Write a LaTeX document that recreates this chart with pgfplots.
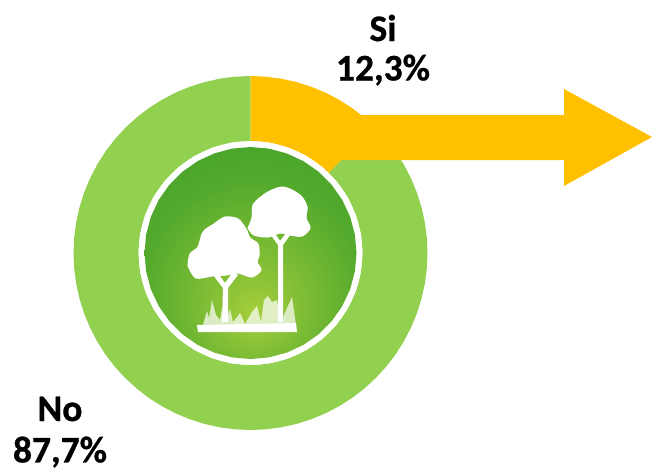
\documentclass[border=0pt]{standalone}
\usepackage{pgfplots}
\pgfplotsset{compat=1.18}
\usepackage{fontspec}
\setmainfont[BoldFeatures={FakeBold=0.8}]{Carlito}
\definecolor{ringgreen}{HTML}{92D050}
\definecolor{amber}{HTML}{FFC000}
\definecolor{discA}{HTML}{A6D03C}
\definecolor{discB}{HTML}{8AC237}
\definecolor{discC}{HTML}{54AA2D}
\definecolor{discD}{HTML}{3BA027}
\pgfdeclareradialshading{discshade}{\pgfpoint{1bp}{-15bp}}{
  color(0bp)=(discA);
  color(8bp)=(discB);
  color(26bp)=(discC);
  color(44bp)=(discD);
  color(70bp)=(discD)}
\begin{document}
\begin{tikzpicture}
\path[use as bounding box] (0pt,0pt) rectangle (652pt,472pt);
% donut: share of the circle, angle/radius about the centre of the ring
\begin{axis}[at={(0pt,0pt)},anchor=south west,scale only axis,width=652pt,height=472pt,
  hide axis,clip=false,xmin=-250.5,xmax=401.5,ymin=-219,ymax=253,data cs=polar]
% No 87,7 %
\addplot[fill=ringgreen,draw=none] coordinates {
(45.72,177)(40,177)(35,177)(30,177)(25,177)(20,177)(15,177)(10,177)(5,177)(0,177)
(-5,177)(-10,177)(-15,177)(-20,177)(-25,177)(-30,177)(-35,177)(-40,177)(-45,177)(-50,177)
(-55,177)(-60,177)(-65,177)(-70,177)(-75,177)(-80,177)(-85,177)(-90,177)(-95,177)(-100,177)
(-105,177)(-110,177)(-115,177)(-120,177)(-125,177)(-130,177)(-135,177)(-140,177)(-145,177)(-150,177)
(-155,177)(-160,177)(-165,177)(-170,177)(-175,177)(-180,177)(-185,177)(-190,177)(-195,177)(-200,177)
(-205,177)(-210,177)(-215,177)(-220,177)(-225,177)(-230,177)(-235,177)(-240,177)(-245,177)(-250,177)
(-255,177)(-260,177)(-265,177)(-270,177)
(-270,112)(-265,112)(-260,112)(-255,112)(-250,112)(-245,112)(-240,112)(-235,112)(-230,112)(-225,112)
(-220,112)(-215,112)(-210,112)(-205,112)(-200,112)(-195,112)(-190,112)(-185,112)(-180,112)(-175,112)
(-170,112)(-165,112)(-160,112)(-155,112)(-150,112)(-145,112)(-140,112)(-135,112)(-130,112)(-125,112)
(-120,112)(-115,112)(-110,112)(-105,112)(-100,112)(-95,112)(-90,112)(-85,112)(-80,112)(-75,112)
(-70,112)(-65,112)(-60,112)(-55,112)(-50,112)(-45,112)(-40,112)(-35,112)(-30,112)(-25,112)
(-20,112)(-15,112)(-10,112)(-5,112)(0,112)(5,112)(10,112)(15,112)(20,112)(25,112)
(30,112)(35,112)(40,112)(45.72,112)};
% Si 12,3 %
\addplot[fill=amber,draw=none] coordinates {
(90,177)(85,177)(80,177)(75,177)(70,177)(65,177)(60,177)(55,177)(50,177)(45.72,177)
(45.72,112)(50,112)(55,112)(60,112)(65,112)(70,112)(75,112)(80,112)(85,112)(90,112)};
% icon disc
\addplot[fill=white,draw=none] coordinates {
(0,112)(10,112)(20,112)(30,112)(40,112)(50,112)(60,112)(70,112)(80,112)(90,112)(100,112)(110,112)
(120,112)(130,112)(140,112)(150,112)(160,112)(170,112)(180,112)(190,112)(200,112)(210,112)(220,112)(230,112)
(240,112)(250,112)(260,112)(270,112)(280,112)(290,112)(300,112)(310,112)(320,112)(330,112)(340,112)(350,112)};
\addplot[shading=discshade,draw=none] coordinates {
(0,106)(10,106)(20,106)(30,106)(40,106)(50,106)(60,106)(70,106)(80,106)(90,106)(100,106)(110,106)
(120,106)(130,106)(140,106)(150,106)(160,106)(170,106)(180,106)(190,106)(200,106)(210,106)(220,106)(230,106)
(240,106)(250,106)(260,106)(270,106)(280,106)(290,106)(300,106)(310,106)(320,106)(330,106)(340,106)(350,106)};
\end{axis}
% arrow, icon and labels, in pixels of the reference
\begin{axis}[at={(0pt,0pt)},anchor=south west,scale only axis,width=652pt,height=472pt,
  hide axis,clip=false,xmin=0,xmax=652,ymin=0,ymax=472,y dir=reverse]
\addplot[fill=amber,draw=none] coordinates {(335,115)(564,115)(564,89)(652,137)(564,186)(564,160)(341,160)(335,140)};
% trees
\addplot[fill=white,draw=none] coordinates {(222,322)(223,288)(213,275)(217,272)(225,283)(233,272)(238,275)(228,288)(228,322)};
\addplot[fill=white,draw=none] coordinates {(278,322)(278,245)(270,234)(274,232)(280,241)(287,232)(291,234)(283,245)(283,322)};
\addplot[fill=white,draw=white,line width=1pt,smooth] coordinates {(188,266)(190,254)(198,247)(203,232)(214,224)(225,217)(238,219)(246,229)(250,238)(258,244)(259,256)(257,262)(261,270)(252,277)(238,273)(226,275)(212,276)(196,278)(188,266)};
\addplot[fill=white,draw=white,line width=1pt,smooth] coordinates {(248,228)(252,218)(253,205)(262,196)(272,190)(282,187)(292,190)(302,197)(307,207)(306,218)(310,228)(302,236)(290,235)(280,233)(268,237)(254,235)(248,228)};
% grass
\addplot[fill=white,fill opacity=0.7,draw=none] coordinates {(203,325)(207,311)(209,318)(212,300)(216,315)(220,320)(222,308)(226,322)(230,309)(233,322)(240,313)(245,324)(252,312)(257,306)(261,322)(264,300)(268,296)(272,302)(277,300)(281,322)(287,308)(292,297)(296,325)};
\addplot[fill=white,draw=none] coordinates {(197,325)(296,323)(297,332)(198,332)};
\node[font=\fontsize{37.5}{37.5}\selectfont\bfseries] at (axis cs:383,28) {Si};
\node[font=\fontsize{37.5}{37.5}\selectfont\bfseries] at (axis cs:383,70) {12,3\%};
\node[font=\fontsize{37.5}{37.5}\selectfont\bfseries] at (axis cs:60,409) {No};
\node[font=\fontsize{37.5}{37.5}\selectfont\bfseries] at (axis cs:60,452) {87,7\%};
\end{axis}
\end{tikzpicture}
\end{document}
